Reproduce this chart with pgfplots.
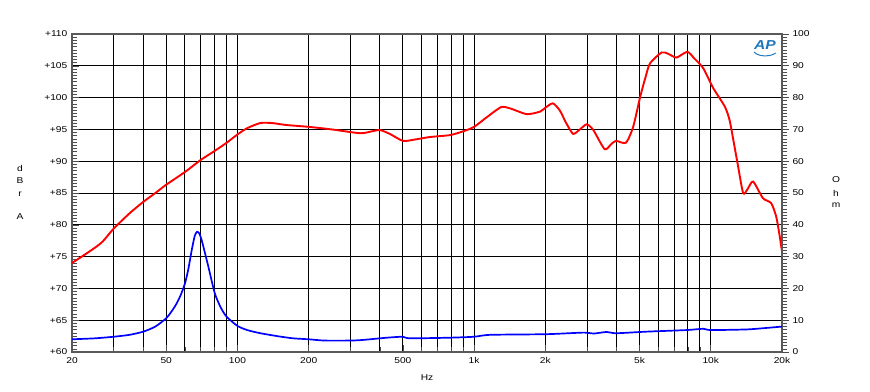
\documentclass[border=0pt]{standalone}
\usepackage{fontspec}
\setmainfont{Liberation Sans}[FakeStretch=1.2]
\usepackage{pgfplots}
\pgfplotsset{compat=1.18}
\newcommand\tk{\fontsize{8.5pt}{10pt}\selectfont}
\definecolor{aplogo}{RGB}{30,120,190}
\begin{document}
\begin{tikzpicture}
\path[use as bounding box] (-72pt,-39pt) rectangle (798pt,352pt);
\begin{axis}[
  at={(0pt,0pt)}, anchor=south west,
  scale only axis, width=710pt, height=318pt,
  xmode=log, xmin=20, xmax=20000,
  ymin=60, ymax=110,
  xtick={20,50,100,200,500,1000,2000,5000,10000,20000},
  xticklabels={20,50,100,200,500,1k,2k,5k,10k,20k},
  minor xtick={30,40,60,70,80,90,300,400,600,700,800,900,3000,4000,6000,7000,8000,9000},
  ytick={60,65,...,110},
  yticklabels={+60,+65,+70,+75,+80,+85,+90,+95,+100,+105,+110},
  minor y tick num=9,
  xmajorgrids, xminorgrids, ymajorgrids,
  major grid style={black, line width=0.9pt},
  minor grid style={black, line width=0.9pt},
  tick align=inside, xtick pos=bottom, ytick pos=left,
  major tick length=7pt, minor tick length=5pt,
  tick style={black!70, line width=0.6pt},
  axis line style={black!65, line width=1.3pt},
  every tick label/.append style={font=\tk},
  yticklabel style={xshift=-1.2pt},
  xticklabel style={yshift=-2pt},
]
\addplot[red, line width=1.9pt, smooth, tension=0.4] coordinates {
(20,74.0)(22,75.0)(25,76.4)(27,77.4)(30,79.4)(35,81.8)(40,83.6)(45,85.0)(50,86.3)
(60,88.3)(70,90.2)(80,91.6)(90,92.9)(100,94.2)(110,95.2)(125,96.0)(140,96.0)(160,95.7)
(200,95.4)(250,95.0)(330,94.4)(370,94.7)(400,94.9)(440,94.3)(500,93.2)(560,93.4)
(650,93.8)(790,94.1)(900,94.7)(1000,95.4)(1130,96.9)(1300,98.5)(1420,98.3)(1670,97.4)
(1900,97.8)(2000,98.4)(2150,99.1)(2300,98.0)(2450,96.0)(2620,94.3)(2800,95.0)(2990,95.8)
(3190,94.9)(3560,91.9)(3800,92.7)(3980,93.2)(4380,92.9)(4700,95.4)(5030,100.1)
(5300,103.2)(5540,105.4)(6200,107.1)(6600,106.9)(7160,106.3)(7960,107.2)(8500,106.2)
(9300,104.6)(10240,101.5)(11460,98.6)(12000,96.5)(12460,93.3)(13000,89.5)(13700,85.0)
(14300,85.6)(15100,86.8)(16600,84.2)(18000,83.4)(18900,81.3)(19500,78.5)(20000,75.8)
};
\end{axis}
\begin{axis}[
  at={(0pt,0pt)}, anchor=south west,
  scale only axis, width=710pt, height=318pt,
  xmode=log, xmin=20, xmax=20000,
  ymin=0, ymax=100,
  axis y line*=right, axis x line=none,
  ytick={0,10,...,100},
  minor y tick num=9,
  tick align=outside,
  major tick length=7pt, minor tick length=5pt,
  tick style={black!70, line width=0.6pt},
  axis line style={black!65, line width=1.3pt},
  /pgf/number format/assume math mode=true,
  every tick label/.append style={font=\tk},
]
\addplot[blue, line width=1.7pt, smooth, tension=0.4] coordinates {
(20,4.0)(25,4.3)(30,4.8)(35,5.4)(40,6.4)(45,8.0)(50,10.6)(52.5,12.6)(55,14.9)(57.5,17.8)(60,21.5)
(62,26)(64.1,32)(66,36.5)(67.5,37.8)(69,37.3)(70.6,35.2)(73,31)(75.4,26.8)(80.2,18.5)
(85,14)(90,11.1)(100,8.2)(110,6.9)(125,5.9)(150,4.9)(172,4.3)(200,4.0)(233,3.6)
(300,3.6)(340,3.8)(428,4.5)(500,4.8)(535,4.3)(790,4.5)(1000,4.8)(1170,5.4)(2020,5.6)
(2900,6.1)(3200,5.8)(3630,6.3)(3980,5.9)(5360,6.4)(7900,6.9)(9300,7.3)(10000,6.9)
(14200,7.1)(17400,7.6)(20000,8.0)
};
\end{axis}
\node[font=\tk] at (-52pt,184pt) {d};
\node[font=\tk] at (-52pt,171pt) {B};
\node[font=\tk] at (-52pt,158pt) {r};
\node[font=\tk] at (-52pt,135pt) {A};
\node[font=\tk] at (764pt,172pt) {O};
\node[font=\tk] at (764pt,159pt) {h};
\node[font=\tk] at (764pt,147pt) {m};
\node[font=\tk] at (355pt,-26pt) {Hz};
\node[font=\fontsize{13pt}{14pt}\selectfont\bfseries\itshape, text=aplogo] at (693pt,307pt) {AP};
\draw[aplogo, line width=1pt] (682pt,300pt) arc[start angle=200, end angle=330, x radius=12pt, y radius=6pt];
\end{tikzpicture}
\end{document}
